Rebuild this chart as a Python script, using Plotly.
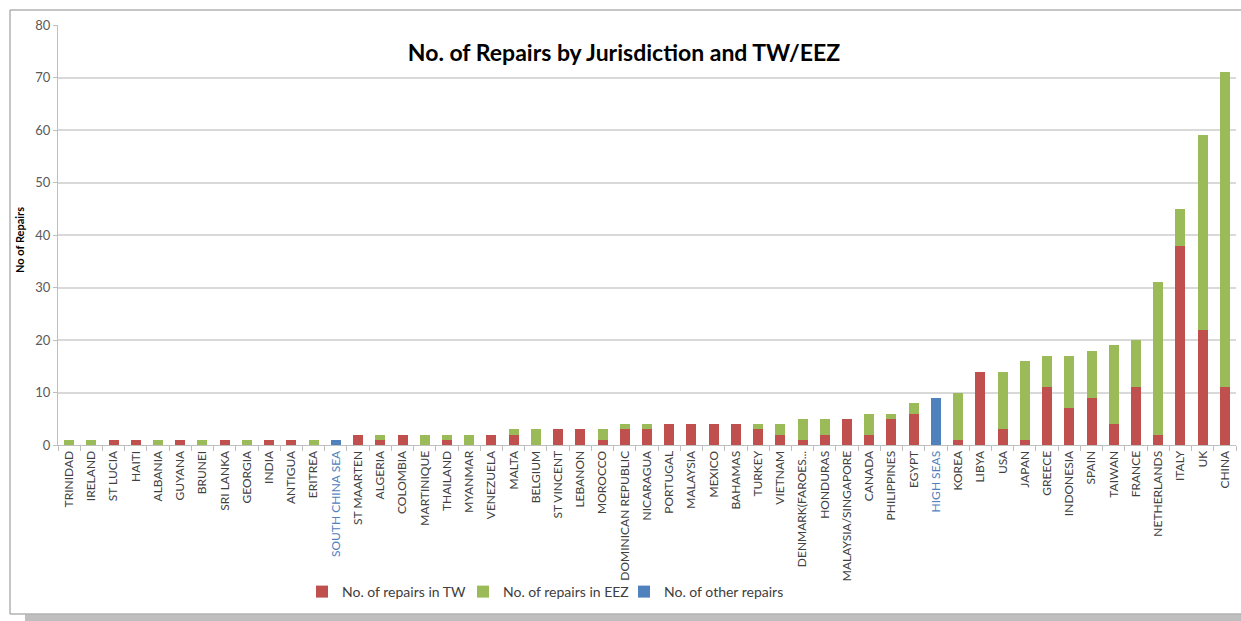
import plotly.graph_objects as go

categories = ["TRINIDAD", "IRELAND", "ST LUCIA", "HAITI", "ALBANIA", "GUYANA", "BRUNEI",
              "SRI LANKA", "GEORGIA", "INDIA", "ANTIGUA", "ERITREA", "SOUTH CHINA SEA",
              "ST MAARTEN", "ALGERIA", "COLOMBIA", "MARTINIQUE", "THAILAND", "MYANMAR",
              "VENEZUELA", "MALTA", "BELGIUM", "ST VINCENT", "LEBANON", "MOROCCO",
              "DOMINICAN REPUBLIC", "NICARAGUA", "PORTUGAL", "MALAYSIA", "MEXICO", "BAHAMAS",
              "TURKEY", "VIETNAM", "DENMARK(FAROES...", "HONDURAS", "MALAYSIA/SINGAPORE",
              "CANADA", "PHILIPPINES", "EGYPT", "HIGH SEAS", "KOREA", "LIBYA", "USA", "JAPAN",
              "GREECE", "INDONESIA", "SPAIN", "TAIWAN", "FRANCE", "NETHERLANDS", "ITALY",
              "UK", "CHINA"]

repairs_tw = [0, 0, 1, 1, 0, 1, 0, 1, 0, 1,
              1, 0, 0, 2, 1, 2, 0, 1, 0, 2,
              2, 0, 3, 3, 1, 3, 3, 4, 4, 4,
              4, 3, 2, 1, 2, 5, 2, 5, 6, 0,
              1, 14, 3, 1, 11, 7, 9, 4, 11, 2,
              38, 22, 11]

repairs_eez = [1, 1, 0, 0, 1, 0, 1, 0, 1, 0,
               0, 1, 0, 0, 1, 0, 2, 1, 2, 0,
               1, 3, 0, 0, 2, 1, 1, 0, 0, 0,
               0, 1, 2, 4, 3, 0, 4, 1, 2, 0,
               9, 0, 11, 15, 6, 10, 9, 15, 9, 29,
               7, 37, 60]

repairs_other = [0, 0, 0, 0, 0, 0, 0, 0, 0, 0,
                 0, 0, 1, 0, 0, 0, 0, 0, 0, 0,
                 0, 0, 0, 0, 0, 0, 0, 0, 0, 0,
                 0, 0, 0, 0, 0, 0, 0, 0, 0, 9,
                 0, 0, 0, 0, 0, 0, 0, 0, 0, 0,
                 0, 0, 0]

blue_labels = ["SOUTH CHINA SEA", "HIGH SEAS"]
y_ticks = [0, 10, 20, 30, 40, 50, 60, 70, 80]

RED, GREEN, BLUE = "#C0504D", "#9BBB59", "#4F81BD"
FONT = "Lato, 'Open Sans', sans-serif"

tick_text = [f"<span style='color:{BLUE}'>{c}</span>" if c in blue_labels else c
             for c in categories]

fig = go.Figure()
fig.add_trace(go.Bar(x=categories, y=repairs_tw, name="No. of repairs in TW",
                     marker=dict(color=RED, line=dict(width=0))))
fig.add_trace(go.Bar(x=categories, y=repairs_eez, name="No. of repairs in EEZ",
                     marker=dict(color=GREEN, line=dict(width=0))))
fig.add_trace(go.Bar(x=categories, y=repairs_other, name="No. of other repairs",
                     marker=dict(color=BLUE, line=dict(width=0))))

W, H = 1241, 621
L, R, T, B = 58, 5, 25, 176
pw = W - L - R
ph = H - T - B

def px_x(p):
    return (p - L) / pw

def px_y(p):
    return (H - B - p) / ph

fig.update_layout(
    width=W, height=H,
    barmode="stack", bargap=0.55,
    margin=dict(l=L, r=R, t=T, b=B),
    paper_bgcolor="white", plot_bgcolor="white",
    font=dict(family=FONT, color="#595959", size=11),
    title=dict(text="<b>No. of Repairs by Jurisdiction and TW/EEZ</b>",
               x=624 / W, xanchor="center", y=1 - 53 / H, yanchor="middle",
               font=dict(size=23, color="black", family=FONT)),
    legend=dict(orientation="h", x=px_x(302), xanchor="left", y=px_y(592), yanchor="middle",
                font=dict(size=14, color="#404040", family=FONT),
                bgcolor="rgba(0,0,0,0)",
                traceorder="normal", itemwidth=30, entrywidth=116, entrywidthmode="pixels"),
    xaxis=dict(tickmode="array", tickvals=categories, ticktext=tick_text,
               tickangle=-90, tickfont=dict(size=12, color="#404040"),
               showline=True, linecolor="#BFBFBF", linewidth=1,
               ticks="outside", tickson="boundaries", ticklen=5, tickcolor="#BFBFBF",
               showgrid=False),
    yaxis=dict(range=[0, 80], tickvals=y_ticks, tickfont=dict(size=13, color="#595959"),
               showline=True, linecolor="#BFBFBF", linewidth=1,
               ticks="outside", ticklen=4, tickcolor="#BFBFBF",
               gridcolor="#D9D9D9", gridwidth=1.5, zeroline=False),
    showlegend=True,
)

fig.add_annotation(text="<b>No of Repairs</b>", textangle=-90,
                   xref="paper", yref="paper", x=px_x(20), y=px_y(240),
                   xanchor="center", yanchor="middle", showarrow=False,
                   font=dict(size=11, color="black", family=FONT))

# outer frame and shadow
fig.add_shape(type="rect", xref="paper", yref="paper",
              x0=px_x(25), x1=px_x(1242), y0=px_y(621), y1=px_y(614.5),
              fillcolor="#BFBFBF", line=dict(width=0), layer="below")
fig.add_shape(type="rect", xref="paper", yref="paper",
              x0=px_x(10), x1=px_x(1245), y0=px_y(614), y1=px_y(10),
              fillcolor="rgba(0,0,0,0)", line=dict(color="#8C8C8C", width=1), layer="below")

fig.write_html("out.html")
